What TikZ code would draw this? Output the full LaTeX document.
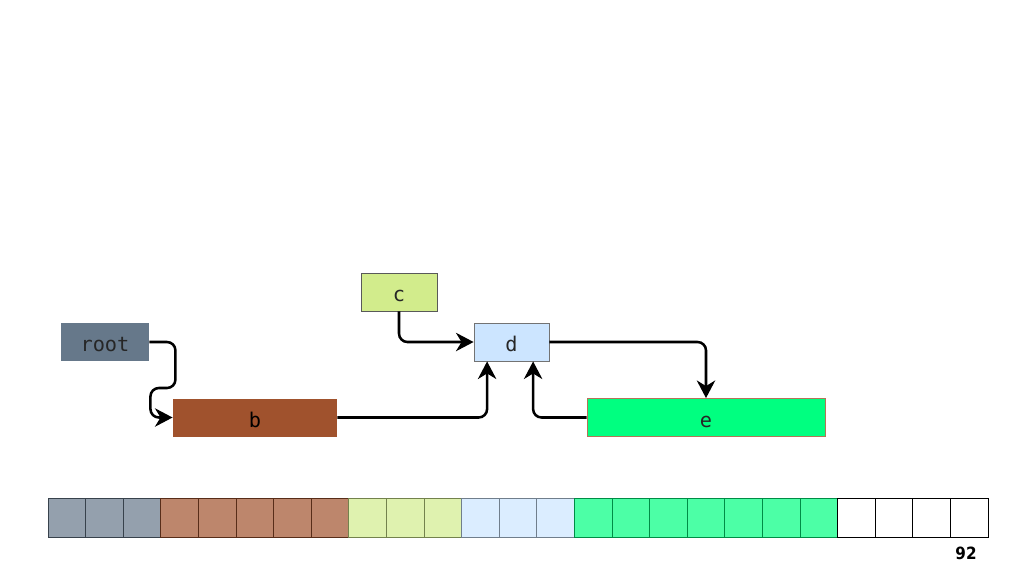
\documentclass[tikz,border=0pt]{standalone}
\usepackage{fontspec}
\setmonofont{DejaVu Sans Mono}
\newfontfamily\pagefont{DejaVu Sans Condensed}
\usetikzlibrary{arrows.meta,positioning,calc}
\definecolor{slate}{HTML}{66788A}
\definecolor{rust}{HTML}{A0522D}
\definecolor{lime}{HTML}{D2EC8C}
\definecolor{sky}{HTML}{CCE5FF}
\definecolor{spring}{HTML}{00FF80}
\tikzset{
  >={Stealth[length=4.4mm,width=4.6mm,inset=1.4mm]},
  % objekt
  obj/.style={rectangle,inner sep=0pt,minimum height=0.95cm,line width=0.6pt,
              font=\ttfamily\Large,text=black!85,text height=13.6pt,text depth=0pt},
  link/.style={->,draw=black,line width=1.8pt,rounded corners=6pt},
  % minne
  cell/.style={rectangle,inner sep=0pt,minimum width=0.94cm,minimum height=0.975cm,
               line width=0.7pt},
  used/.style={cell,fill=#1!70,draw=#1!55!black},
  free/.style={cell,fill=white,draw=black},
}
\begin{document}
\begin{tikzpicture}[x=0.025cm,y=-0.025cm]
  \useasboundingbox (0,0) rectangle (1024,574);
  \node[obj,fill=slate,minimum width=2.2cm] (root) at (105,342) {root};
  \node[obj,fill=lime,draw=black!65,minimum width=1.9cm] (c) at (399,292) {c};
  \node[obj,fill=sky,draw=black!55,minimum width=1.875cm] (d) at (511.5,342) {d};
  \node[obj,fill=rust,minimum width=4.1cm,text=black] (b) at (255,417.5) {b};
  \node[obj,fill=spring,draw=rust!80,minimum width=5.95cm] (e) at (706,417.5) {e};
  \draw[link] (root.east) -- ++(26,0) -- ++(0,46) -- ++(-25,0) |- (b.west);
  \draw[link] (b.east) -| ([xshift=-0.61cm]d.south);
  \draw[link] (c.south) |- (d.west);
  \draw[link] (d.east) -| (e.north);
  \draw[link] (e.west) -| ([xshift=0.54cm]d.south);
  % heap
  \foreach \col [count=\i from 0] in {slate,slate,slate,rust,rust,rust,rust,rust,
      lime,lime,lime,sky,sky,sky,spring,spring,spring,spring,spring,spring,spring}
    \node[used=\col] (m\i) at (66.8+37.6*\i,517.5) {};
  \foreach \i in {21,...,24}
    \node[free] (m\i) at (66.8+37.6*\i,517.5) {};
  \node[font=\pagefont\bfseries\large] (page) at (966,553) {92};
\end{tikzpicture}
\end{document}
